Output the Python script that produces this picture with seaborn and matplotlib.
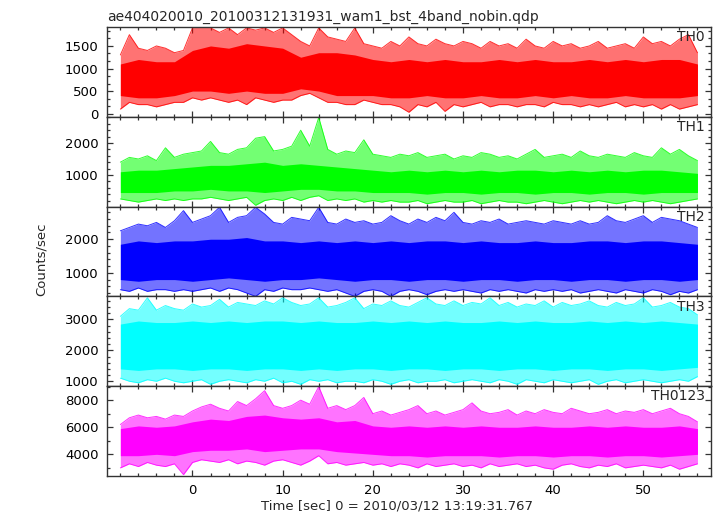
import numpy as np
import pandas as pd
import matplotlib
matplotlib.use("Agg")
import matplotlib.pyplot as plt
from matplotlib.ticker import MultipleLocator
import seaborn as sns

# time grid of the envelope readings (1 s) and of the dense core band (2 s)
t = np.arange(-8, 57, 1)
t_core = np.arange(-8, 57, 2)

channels = ["TH0", "TH1", "TH2", "TH3", "TH0123"]
colors = ["#ff0000", "#00ff00", "#0000ff", "#00ffff", "#ff00ff"]

# upper / lower extremes per second
th0_hi = [1300, 1750, 1450, 1400, 1500, 1450, 1350, 1400, 1900, 1900, 1900, 1800, 1900, 1750, 1900, 1850,
          1900, 1800, 1900, 1750, 1600, 1500, 1900, 1700, 1650, 1600, 1900, 1550, 1500, 1450, 1600, 1500,
          1700, 1550, 1500, 1650, 1550, 1500, 1600, 1550, 1450, 1600, 1500, 1550, 1450, 1650, 1500, 1450,
          1600, 1500, 1550, 1450, 1500, 1600, 1450, 1500, 1550, 1450, 1700, 1550, 1600, 1500, 1650, 1750, 1350]
th0_lo = [100, 250, 200, 200, 150, 200, 250, 250, 350, 300, 350, 300, 250, 300, 200, 350,
          300, 250, 300, 300, 400, 450, 350, 250, 250, 200, 200, 300, 250, 200, 200, 150,
          30, 200, 150, 250, 50, 200, 150, 200, 250, 150, 200, 200, 150, 200, 200, 150,
          250, 200, 200, 150, 200, 150, 200, 250, 150, 200, 150, 200, 100, 200, 100, 150, 200]
th1_hi = [1400, 1550, 1500, 1600, 1450, 1850, 1550, 1650, 1700, 1750, 2050, 1700, 1650, 1800, 1850, 2150,
          2200, 1750, 1800, 1900, 2400, 1900, 2800, 1800, 1650, 1750, 1700, 2100, 1650, 1600, 1550, 1650,
          1600, 1700, 1550, 1600, 1650, 1500, 1600, 1550, 1700, 1650, 1550, 1600, 1500, 1650, 1800, 1550,
          1600, 1650, 1550, 1750, 1600, 1550, 1650, 1600, 1550, 1700, 1600, 1550, 1850, 1650, 1800, 1600, 1450]
th1_lo = [250, 200, 150, 200, 250, 200, 250, 200, 250, 250, 300, 250, 200, 250, 300, 50,
          200, 250, 200, 300, 200, 300, 350, 200, 250, 200, 250, 150, 200, 150, 200, 150,
          150, 200, 100, 150, 200, 150, 150, 200, 100, 150, 200, 150, 150, 100, 150, 200,
          150, 100, 150, 200, 150, 200, 150, 100, 150, 200, 150, 200, 150, 100, 150, 200, 250]
th2_hi = [2250, 2350, 2450, 2400, 2500, 2350, 2550, 2850, 2500, 2600, 2700, 2950, 2500, 2650, 2700, 2950,
          2750, 2500, 2450, 2650, 2600, 2550, 2950, 2500, 2450, 2600, 2500, 2550, 2450, 2500, 2700, 2550,
          2450, 2600, 2500, 2650, 2550, 2800, 2500, 2450, 2550, 2500, 2600, 2450, 2500, 2550, 2500, 2450,
          2550, 2500, 2450, 2550, 2450, 2500, 2700, 2550, 2500, 2600, 2700, 2500, 2650, 2600, 2550, 2450, 2350]
th2_lo = [500, 450, 550, 450, 500, 500, 450, 500, 450, 500, 550, 450, 550, 500, 400, 300,
          500, 450, 550, 500, 500, 550, 500, 450, 500, 400, 300, 450, 500, 450, 300, 450,
          500, 450, 350, 450, 500, 450, 500, 450, 400, 500, 450, 500, 450, 400, 500, 450,
          500, 450, 500, 400, 450, 500, 450, 400, 500, 450, 400, 500, 450, 350, 450, 400, 500]
th3_hi = [3100, 3350, 3300, 3700, 3300, 3450, 3350, 3300, 3500, 3400, 3450, 3650, 3400, 3550, 3500, 3450,
          3600, 3500, 3700, 3550, 3450, 3500, 3700, 3400, 3450, 3550, 3700, 3350, 3500, 3450, 3600, 3450,
          3400, 3550, 3700, 3500, 3450, 3600, 3450, 3550, 3500, 3700, 3450, 3550, 3400, 3500, 3450, 3600,
          3400, 3550, 3450, 3500, 3600, 3450, 3400, 3550, 3450, 3500, 3700, 3400, 3450, 3550, 3400, 3350, 3150]
th3_lo = [1100, 1000, 950, 1050, 1000, 1100, 1000, 950, 1000, 1050, 900, 1000, 1050, 1000, 950, 1050,
          1000, 1100, 950, 1000, 900, 1050, 1000, 1050, 950, 1000, 1000, 950, 1050, 1000, 900, 1000,
          1050, 950, 1000, 1000, 1050, 950, 1000, 1050, 1000, 950, 1050, 1000, 900, 1050, 1000, 950,
          1050, 1000, 950, 1000, 1050, 900, 1000, 1050, 950, 1000, 1050, 1000, 950, 1000, 1050, 1000, 1150]
th0123_hi = [6200, 6700, 6900, 6700, 6800, 6600, 6900, 6800, 7200, 7500, 7700, 7400, 7200, 7900, 7600, 8100,
             8700, 7600, 7400, 7600, 8000, 7700, 9000, 7400, 7600, 7300, 7600, 8200, 7000, 7200, 6900, 7100,
             7300, 7600, 7000, 7200, 6900, 7100, 7300, 7800, 7200, 7000, 7100, 7300, 6900, 7200, 7000, 7300,
             7100, 7000, 7400, 7200, 7000, 7100, 7300, 7000, 7200, 7100, 7300, 7000, 7200, 7400, 7000, 6800, 6400]
th0123_lo = [3000, 3300, 3100, 3400, 3200, 3100, 3300, 2500, 3400, 3600, 3500, 3400, 3600, 3300, 3500, 3400,
             3200, 3500, 3600, 3400, 3200, 3500, 3900, 3300, 3400, 3200, 3300, 3400, 3200, 3300, 3100, 3300,
             3200, 3000, 3300, 3100, 3200, 3300, 3100, 3200, 3000, 3300, 3100, 3200, 3300, 3100, 3200, 3000,
             2900, 3200, 3300, 3100, 3000, 3200, 3100, 3300, 3000, 3100, 3200, 3100, 3000, 3200, 2900, 3100, 3300]

# the solid core of each band, every 2 s
th0_core_hi = [1100, 1200, 1150, 1150, 1400, 1500, 1450, 1550, 1500, 1450, 1250, 1350, 1350, 1300, 1200, 1150, 1200,
               1150, 1200, 1150, 1150, 1200, 1150, 1200, 1150, 1150, 1200, 1150, 1200, 1150, 1200, 1200, 1100]
th0_core_lo = [400, 350, 350, 400, 500, 500, 450, 500, 450, 450, 550, 500, 400, 400, 400, 350, 350,
               400, 350, 350, 400, 350, 350, 400, 350, 400, 350, 350, 400, 350, 350, 350, 400]
th1_core_hi = [1100, 1150, 1150, 1200, 1250, 1300, 1300, 1350, 1400, 1300, 1350, 1300, 1250, 1200, 1150, 1100, 1150,
               1100, 1150, 1100, 1150, 1100, 1150, 1150, 1100, 1150, 1100, 1150, 1100, 1150, 1150, 1100, 1050]
th1_core_lo = [450, 450, 450, 500, 500, 550, 500, 500, 450, 500, 550, 550, 500, 500, 450, 450, 450,
               400, 450, 450, 400, 450, 450, 400, 450, 450, 400, 450, 450, 400, 450, 450, 450]
th2_core_hi = [1850, 1950, 1900, 1950, 1950, 2000, 2000, 2050, 1950, 1950, 1900, 1950, 1900, 1950, 1900, 1950, 1900,
               1950, 1950, 1900, 1950, 1900, 1900, 1950, 1900, 1900, 1950, 1950, 1900, 1950, 1950, 1900, 1850]
th2_core_lo = [800, 750, 800, 800, 750, 800, 850, 800, 750, 800, 800, 850, 800, 750, 800, 800, 750,
               800, 800, 750, 800, 800, 750, 800, 800, 750, 800, 800, 750, 800, 800, 750, 800]
th3_core_hi = [2850, 2950, 2900, 2900, 2950, 2900, 2950, 2900, 2950, 2950, 2900, 2950, 2900, 2900, 2950, 2900, 2950,
               2900, 2950, 2900, 2900, 2950, 2900, 2950, 2900, 2900, 2950, 2900, 2950, 2900, 2950, 2900, 2850]
th3_core_lo = [1400, 1350, 1400, 1400, 1350, 1400, 1400, 1350, 1400, 1400, 1350, 1400, 1350, 1400, 1400, 1350, 1400,
               1400, 1350, 1400, 1400, 1350, 1400, 1400, 1350, 1400, 1400, 1350, 1400, 1400, 1350, 1400, 1450]
th0123_core_hi = [5900, 6100, 6000, 6100, 6400, 6600, 6500, 6800, 6900, 6700, 6600, 6700, 6400, 6500, 6100, 6000, 6100,
                  6000, 6100, 6000, 6100, 6000, 6000, 6100, 6000, 6000, 6100, 6000, 6100, 6000, 6000, 6100, 5900]
th0123_core_lo = [3900, 3900, 4000, 3900, 4200, 4300, 4300, 4400, 4200, 4300, 4400, 4400, 4200, 4100, 4000, 3900, 3900,
                  3800, 3900, 3900, 3900, 3800, 3900, 3900, 3800, 3900, 3900, 3800, 3900, 3900, 3800, 3900, 4000]

his = [th0_hi, th1_hi, th2_hi, th3_hi, th0123_hi]
los = [th0_lo, th1_lo, th2_lo, th3_lo, th0123_lo]
core_his = [th0_core_hi, th1_core_hi, th2_core_hi, th3_core_hi, th0123_core_hi]
core_los = [th0_core_lo, th1_core_lo, th2_core_lo, th3_core_lo, th0123_core_lo]

ylims = [(-70, 1920), (10, 2820), (300, 2970), (840, 3745), (2400, 9030)]
majors = [500, 1000, 1000, 1000, 2000]
minors = [500 / 3, 200, 200, 200, 1000]

sns.set_theme(style="ticks")
plt.rcParams["font.family"] = ["DejaVu Sans"]
plt.rcParams["font.size"] = 9.5
plt.rcParams["xtick.labelsize"] = 9.5
plt.rcParams["ytick.labelsize"] = 9.5

fig, axes = plt.subplots(5, 1, figsize=(7.17, 5.16), dpi=100, sharex=True)
fig.subplots_adjust(left=0.149, right=0.9916, top=0.9477, bottom=0.0775, hspace=0)

for i, ax in enumerate(axes):
    c = colors[i]
    df = pd.DataFrame({"t": t, "hi": his[i], "lo": los[i]})
    # light fringe out to the extremes, solid core where the trace is dense
    ax.fill_between(df["t"], df["lo"], df["hi"], color=c, alpha=0.55, lw=0)
    sns.lineplot(data=df, x="t", y="hi", ax=ax, color=c, lw=0.7, alpha=0.8)
    sns.lineplot(data=df, x="t", y="lo", ax=ax, color=c, lw=0.7, alpha=0.8)
    ax.fill_between(t_core, core_los[i], core_his[i], color=c, lw=0)

    ax.set_ylim(*ylims[i])
    ax.set_xlim(-9.5, 57.5)
    ax.yaxis.set_major_locator(MultipleLocator(majors[i]))
    ax.yaxis.set_minor_locator(MultipleLocator(minors[i]))
    ax.xaxis.set_major_locator(MultipleLocator(10))
    ax.xaxis.set_minor_locator(MultipleLocator(2))
    ax.tick_params(which="both", direction="in", top=True, right=True, colors="#333333",
                   labelcolor="black", width=0.9)
    ax.tick_params(which="major", length=4.5, pad=6)
    ax.tick_params(which="minor", length=2.3)
    ax.tick_params(axis="x", labelbottom=(i == 4))
    for s in ax.spines.values():
        s.set_color("#333333")
        s.set_linewidth(1.0)
    ax.set_xlabel("")
    ax.set_ylabel("")
    ax.text(0.99, 0.965, channels[i], transform=ax.transAxes, ha="right", va="top",
            fontsize=10, zorder=5)

fig.text(0.149, 1 - 21 / 516, "ae404020010_20100312131931_wam1_bst_4band_nobin.qdp",
         ha="left", va="baseline", fontsize=10)
fig.text(41 / 717, 0.498, "Counts/sec", rotation=90, ha="center", va="center")
fig.text(397 / 717, 1 - 506 / 516, "Time [sec] 0 = 2010/03/12 13:19:31.767", ha="center", va="center")

fig.savefig("out.png", dpi=100)
